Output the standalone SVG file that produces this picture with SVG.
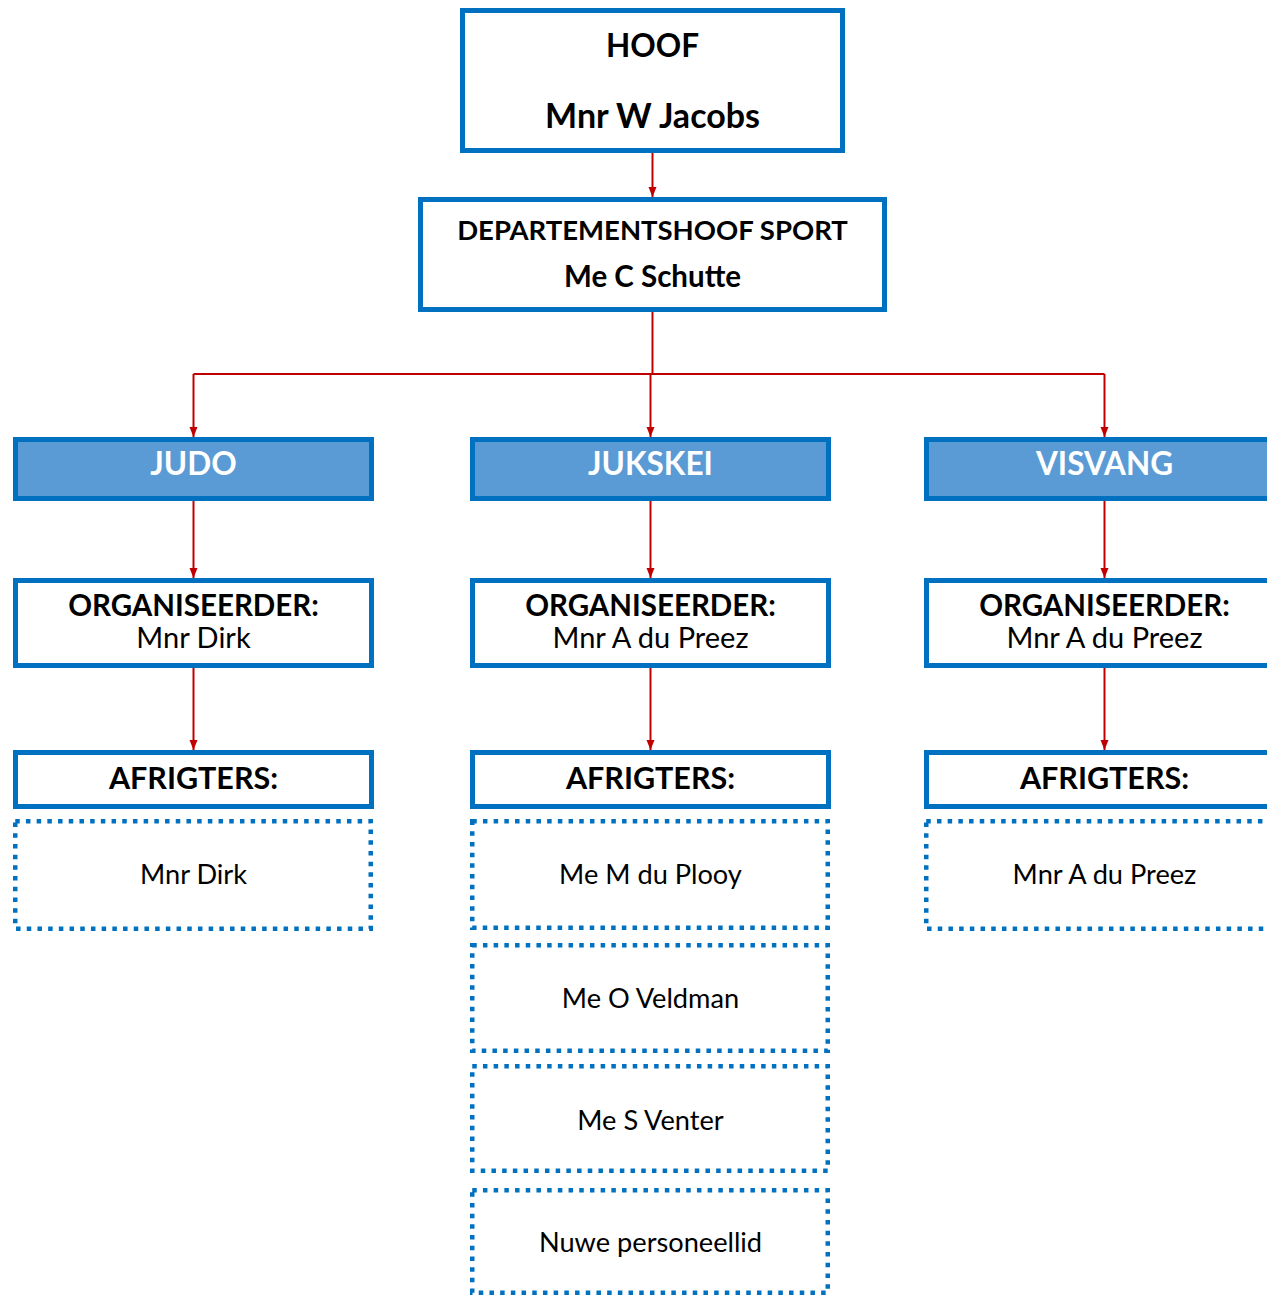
<svg xmlns="http://www.w3.org/2000/svg" width="1267" height="1297" viewBox="0 0 1267 1297">
<defs>
<marker id="arr" markerUnits="userSpaceOnUse" markerWidth="10" markerHeight="10" viewBox="0 0 10 10" refX="10" refY="5" orient="auto">
<path d="M0,1 L10,5 L0,9 Z" fill="#C00000"/>
</marker>
<style>
.box{fill:#fff;stroke:#0070C0;stroke-width:5}
.hdr{fill:#5B9BD5;stroke:#0070C0;stroke-width:5}
.dot{fill:#fff;stroke:#0070C0;stroke-width:4.5;stroke-dasharray:4.5 6.2}
.ln{fill:none;stroke:#C00000;stroke-width:2}
.b{font-family:Lato,"Liberation Sans",sans-serif;font-weight:bold;fill:#000;text-anchor:middle}
.r{font-family:Lato,"Liberation Sans",sans-serif;fill:#000;text-anchor:middle}
.w{font-family:Lato,"Liberation Sans",sans-serif;font-weight:bold;fill:#fff;text-anchor:middle;font-size:31.5px}
</style>
</defs>
<rect width="1267" height="1297" fill="#fff"/>
<g id="connectors">
<path class="ln" d="M652.5,153 V197" marker-end="url(#arr)"/>
<path class="ln" d="M652.5,312 V374"/>
<path class="ln" d="M193.5,374 H1104.5"/>
<path class="ln" d="M193.5,374 V437" marker-end="url(#arr)"/>
<path class="ln" d="M650.5,374 V437" marker-end="url(#arr)"/>
<path class="ln" d="M1104.5,374 V437" marker-end="url(#arr)"/>
<path class="ln" d="M193.5,501 V578" marker-end="url(#arr)"/>
<path class="ln" d="M650.5,501 V578" marker-end="url(#arr)"/>
<path class="ln" d="M1104.5,501 V578" marker-end="url(#arr)"/>
<path class="ln" d="M193.5,668 V750" marker-end="url(#arr)"/>
<path class="ln" d="M650.5,668 V750" marker-end="url(#arr)"/>
<path class="ln" d="M1104.5,668 V750" marker-end="url(#arr)"/>
</g>
<g id="hoof">
<rect class="box" x="462.5" y="10.5" width="380" height="140"/>
<text class="b" x="652.5" y="57" font-size="31.5">HOOF</text>
<text class="b" x="652.5" y="128" font-size="34">Mnr W Jacobs</text>
</g>
<g id="departementshoof">
<rect class="box" x="420.5" y="199.5" width="464" height="110"/>
<text class="b" x="652.5" y="240" font-size="27.5">DEPARTEMENTSHOOF SPORT</text>
<text class="b" x="652.5" y="287" font-size="29.5">Me C Schutte</text>
</g>
<g id="judo">
<rect class="hdr" x="15.5" y="439.5" width="356" height="59"/>
<text class="w" x="193.5" y="475">JUDO</text>
</g>
<g id="jukskei">
<rect class="hdr" x="472.5" y="439.5" width="356" height="59"/>
<text class="w" x="650.5" y="475">JUKSKEI</text>
</g>
<g id="visvang">
<rect class="hdr" x="926.5" y="439.5" width="356" height="59"/>
<text class="w" x="1104.5" y="475">VISVANG</text>
</g>
<g id="org-judo">
<rect class="box" x="15.5" y="580.5" width="356" height="85"/>
<text class="b" x="193.5" y="616" font-size="29.5">ORGANISEERDER:</text>
<text class="r" x="193.5" y="648" font-size="29">Mnr Dirk</text>
</g>
<g id="org-jukskei">
<rect class="box" x="472.5" y="580.5" width="356" height="85"/>
<text class="b" x="650.5" y="616" font-size="29.5">ORGANISEERDER:</text>
<text class="r" x="650.5" y="648" font-size="29">Mnr A du Preez</text>
</g>
<g id="org-visvang">
<rect class="box" x="926.5" y="580.5" width="356" height="85"/>
<text class="b" x="1104.5" y="616" font-size="29.5">ORGANISEERDER:</text>
<text class="r" x="1104.5" y="648" font-size="29">Mnr A du Preez</text>
</g>
<g id="afr-judo">
<rect class="box" x="15.5" y="752.5" width="356" height="54"/>
<text class="b" x="193.5" y="789" font-size="30.5">AFRIGTERS:</text>
</g>
<g id="afr-jukskei">
<rect class="box" x="472.5" y="752.5" width="356" height="54"/>
<text class="b" x="650.5" y="789" font-size="30.5">AFRIGTERS:</text>
</g>
<g id="afr-visvang">
<rect class="box" x="926.5" y="752.5" width="356" height="54"/>
<text class="b" x="1104.5" y="789" font-size="30.5">AFRIGTERS:</text>
</g>
<g id="judo-1">
<rect class="dot" x="15.25" y="821.25" width="355.5" height="107.5"/>
<text class="r" x="193.5" y="884" font-size="27.2">Mnr Dirk</text>
</g>
<g id="jukskei-1">
<rect class="dot" x="472.25" y="821.25" width="355.5" height="106.5"/>
<text class="r" x="650.5" y="884" font-size="27.2">Me M du Plooy</text>
</g>
<g id="jukskei-2">
<rect class="dot" x="472.25" y="945.25" width="355.5" height="105.5"/>
<text class="r" x="650.5" y="1008" font-size="27.2">Me O Veldman</text>
</g>
<g id="jukskei-3">
<rect class="dot" x="472.25" y="1066.25" width="355.5" height="104.5"/>
<text class="r" x="650.5" y="1130" font-size="27.2">Me S Venter</text>
</g>
<g id="jukskei-4">
<rect class="dot" x="472.25" y="1190.25" width="355.5" height="102.5"/>
<text class="r" x="650.5" y="1252" font-size="27.2">Nuwe personeellid</text>
</g>
<g id="visvang-1">
<rect class="dot" x="926.25" y="821.25" width="355.5" height="107.5"/>
<text class="r" x="1104.5" y="884" font-size="27.2">Mnr A du Preez</text>
</g>
</svg>
